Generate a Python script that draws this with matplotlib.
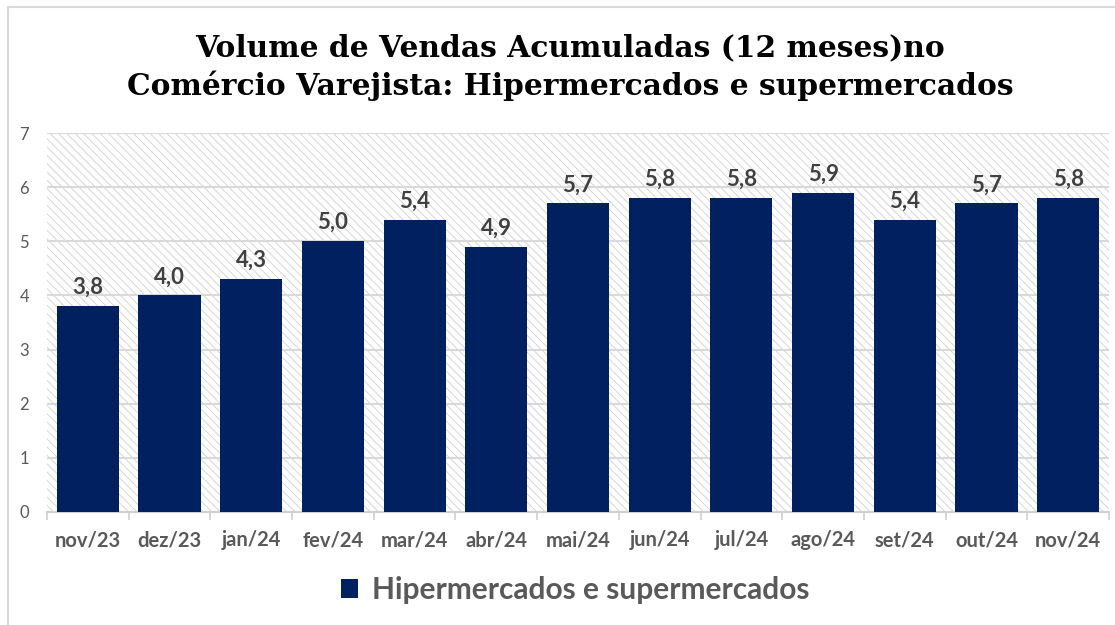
import matplotlib.pyplot as plt
import matplotlib as mpl
from matplotlib.lines import Line2D
from matplotlib.patches import Patch

mpl.rcParams['hatch.linewidth'] = 0.6
mpl.rcParams['hatch.color'] = '#cfcfcf'

meses = ['nov/23', 'dez/23', 'jan/24', 'fev/24', 'mar/24', 'abr/24', 'mai/24',
         'jun/24', 'jul/24', 'ago/24', 'set/24', 'out/24', 'nov/24']
volume = [3.8, 4.0, 4.3, 5.0, 5.4, 4.9, 5.7, 5.8, 5.8, 5.9, 5.4, 5.7, 5.8]
serie = 'Hipermercados e supermercados'
titulo = 'Volume de Vendas Acumuladas (12 meses)no\nComércio Varejista: Hipermercados e supermercados'

navy = '#002060'
cinza = '#595959'

fig = plt.figure(figsize=(11.15, 6.25), dpi=100)
ax = fig.add_axes([47 / 1115, 1 - 512 / 625, 1062 / 1115, 379 / 625])

ax.patch.set_hatch('\\\\\\\\')
ax.patch.set_edgecolor('#cfcfcf')
ax.patch.set_linewidth(0)

x = range(len(meses))
bars = ax.bar(x, volume, width=0.76, color=navy, zorder=3)
for xi, v in zip(x, volume):
    ax.text(xi, v + 0.15, f'{v:.1f}'.replace('.', ','), ha='center', va='bottom',
            fontsize=16, fontweight='bold', color='#404040', family='Lato')

ax.set_xlim(-0.5, len(meses) - 0.5)
ax.set_ylim(0, 7)
ax.set_yticks(range(8))
ax.yaxis.grid(True, color='#d9d9d9', linewidth=1.5, zorder=1)
ax.set_axisbelow(True)
ax.tick_params(axis='y', length=0, labelsize=12, labelcolor=cinza, pad=13)
for lab in ax.get_yticklabels():
    lab.set_family('Lato')

ax.set_xticks(x)
ax.set_xticklabels(meses, fontsize=14.5, fontweight='bold', color=cinza, family='Lato')
ax.set_xticks([i - 0.5 for i in range(len(meses) + 1)], minor=True)
ax.tick_params(axis='x', which='major', length=0, pad=13)
ax.tick_params(axis='x', which='minor', length=6, color='#d0d0d0', width=1.2)

for s in ['top', 'right', 'left']:
    ax.spines[s].set_visible(False)
ax.spines['bottom'].set_color('#d0d0d0')
ax.spines['bottom'].set_linewidth(1.5)

fig.text(570 / 1115, 1 - 67 / 625, titulo, ha='center', va='center', fontsize=21.4,
         fontweight='bold', family='DejaVu Serif', linespacing=1.35, color='black')

fig.legend(handles=[Patch(facecolor=navy, label=serie)], loc='center',
           bbox_to_anchor=(575 / 1115, 1 - 590 / 625), frameon=False,
           prop={'family': 'Lato', 'weight': 'bold', 'size': 21.5},
           labelcolor=cinza, handlelength=0.6, handleheight=0.6, handletextpad=0.45)

# moldura do gráfico (topo e esquerda)
fig.add_artist(Line2D([8 / 1115, 1], [1 - 7 / 625, 1 - 7 / 625], color='#d9d9d9', lw=1.5))
fig.add_artist(Line2D([8 / 1115, 8 / 1115], [0, 1 - 7 / 625], color='#d9d9d9', lw=1.5))

fig.savefig('out.png', dpi=100)
